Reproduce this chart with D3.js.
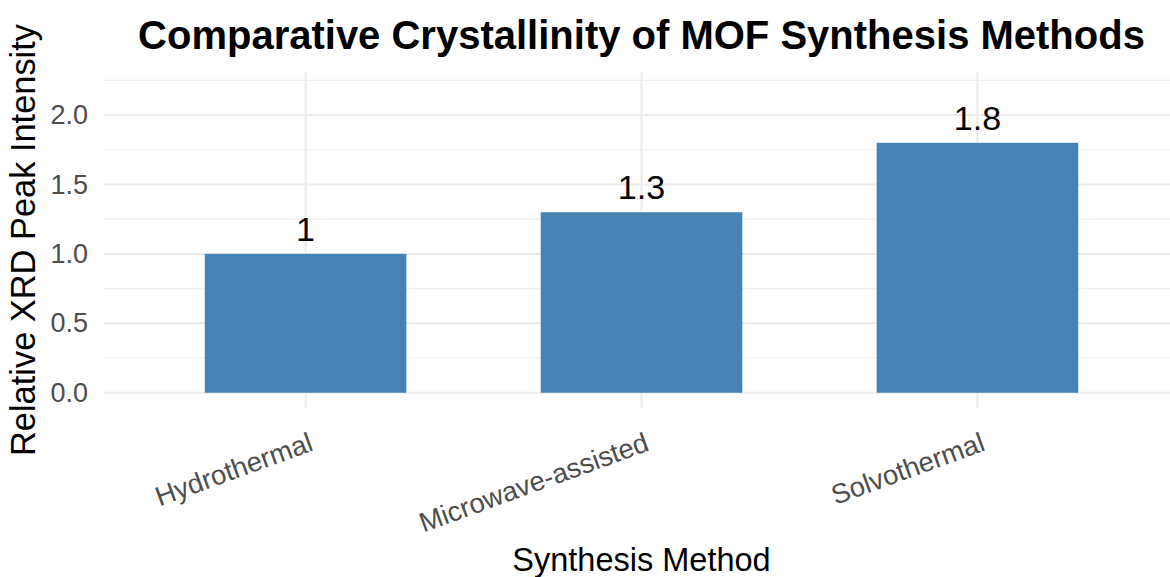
<!DOCTYPE html>
<html>
<head>
<meta charset="utf-8">
<script src="https://cdn.jsdelivr.net/npm/d3@7"></script>
<style>
  html, body { margin: 0; padding: 0; background: #fff; }
  svg { display: block; font-family: "Liberation Sans", Arial, Helvetica, sans-serif; }
</style>
</head>
<body>
<svg id="chart" width="1170" height="577"></svg>
<script>
const categories = ["Hydrothermal", "Microwave-assisted", "Solvothermal"];
const values = [1.0, 1.3, 1.8];
const valueLabels = ["1", "1.3", "1.8"];
const yTicks = [0, 0.5, 1.0, 1.5, 2.0];
const yMinor = [0.25, 0.75, 1.25, 1.75, 2.25];
const yLimit = [0, 2.2];

const panel = { left: 104, right: 1179, top: 72, bottom: 408 };

const svg = d3.select("#chart");

const yPad = (yLimit[1] - yLimit[0]) * 0.05;
const y = d3.scaleLinear()
  .domain([yLimit[0] - yPad, yLimit[1] + yPad])
  .range([panel.bottom, panel.top]);

const x = d3.scaleBand()
  .domain(categories)
  .range([panel.left, panel.right])
  .paddingInner(0.4)
  .paddingOuter(0.3);

const grid = svg.append("g");
grid.selectAll("line.minor").data(yMinor).enter().append("line")
  .attr("x1", panel.left).attr("x2", panel.right)
  .attr("y1", d => y(d)).attr("y2", d => y(d))
  .attr("stroke", "#f0f0f0").attr("stroke-width", 1.2);
grid.selectAll("line.major").data(yTicks).enter().append("line")
  .attr("x1", panel.left).attr("x2", panel.right)
  .attr("y1", d => y(d)).attr("y2", d => y(d))
  .attr("stroke", "#ebebeb").attr("stroke-width", 2);
grid.selectAll("line.vert").data(categories).enter().append("line")
  .attr("x1", d => x(d) + x.bandwidth() / 2).attr("x2", d => x(d) + x.bandwidth() / 2)
  .attr("y1", panel.top).attr("y2", panel.bottom)
  .attr("stroke", "#ebebeb").attr("stroke-width", 2);

svg.selectAll("rect.bar").data(categories).enter().append("rect")
  .attr("x", d => x(d))
  .attr("width", x.bandwidth())
  .attr("y", (d, i) => y(values[i]))
  .attr("height", (d, i) => y(0) - y(values[i]))
  .attr("fill", "#4682B4");

svg.selectAll("text.vlab").data(categories).enter().append("text")
  .attr("x", d => x(d) + x.bandwidth() / 2)
  .attr("y", (d, i) => y(values[i]) - 13)
  .attr("text-anchor", "middle")
  .attr("font-size", 34)
  .attr("fill", "#000")
  .text((d, i) => valueLabels[i]);

const yAxis = d3.axisLeft(y).tickValues(yTicks).tickFormat(d3.format(".1f")).tickSize(0).tickPadding(0);
const yg = svg.append("g").attr("transform", `translate(${panel.left - 16},0)`).call(yAxis);
yg.select(".domain").remove();
yg.selectAll("text").attr("font-size", 27).attr("fill", "#4d4d4d")
  .attr("font-family", "Liberation Sans, Arial, sans-serif");

const xAxis = d3.axisBottom(x).tickSize(0);
const xg = svg.append("g").attr("transform", `translate(0,${panel.bottom})`).call(xAxis);
xg.select(".domain").remove();
xg.selectAll("text")
  .attr("font-size", 27.5).attr("fill", "#4d4d4d")
  .attr("font-family", "Liberation Sans, Arial, sans-serif")
  .attr("text-anchor", "end")
  .attr("dy", null)
  .attr("y", 0)
  .attr("transform", "translate(9,42) rotate(-20)");

svg.append("text")
  .attr("x", (panel.left + panel.right) / 2).attr("y", 49)
  .attr("text-anchor", "middle")
  .attr("font-size", 40).attr("font-weight", "bold").attr("fill", "#000")
  .text("Comparative Crystallinity of MOF Synthesis Methods");

svg.append("text")
  .attr("x", (panel.left + panel.right) / 2).attr("y", 571)
  .attr("text-anchor", "middle")
  .attr("font-size", 32.5).attr("fill", "#000")
  .text("Synthesis Method");

svg.append("text")
  .attr("transform", `translate(35,${(panel.top + panel.bottom) / 2}) rotate(-90)`)
  .attr("text-anchor", "middle")
  .attr("font-size", 34.4).attr("fill", "#000")
  .text("Relative XRD Peak Intensity");
</script>
</body>
</html>
